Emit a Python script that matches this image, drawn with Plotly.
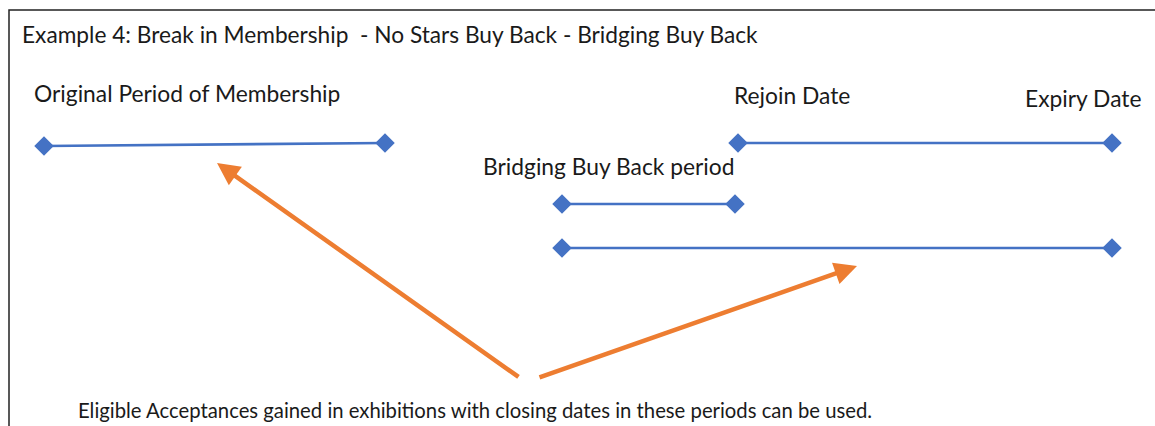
import plotly.graph_objects as go

# Timeline segments (pixel-like diagram coordinates)
seg_names = ["Original Period of Membership", "Rejoined period", "Bridging Buy Back period", "Combined period"]
seg_x_start = [44, 738, 562, 562]
seg_x_end = [385, 1112, 735, 1112]
seg_y_start = [146, 143, 204, 248]
seg_y_end = [143, 143, 204, 248]

# Labels
label_text = ["Original Period of Membership", "Rejoin Date", "Expiry Date", "Bridging Buy Back period"]
label_x = [32, 732, 1023, 481]
label_y = [93, 95, 98, 166]

title_text = "Example 4: Break in Membership  - No Stars Buy Back - Bridging Buy Back"
footer_text = "Eligible Acceptances gained in exhibitions with closing dates in these periods can be used."

# Arrows: tail -> head
arrow_tail_x = [520, 538]
arrow_tail_y = [378, 378]
arrow_head_x = [217, 857]
arrow_head_y = [163, 266]

BLUE = "#4472C4"
ORANGE = "#ED7D31"
FONT = "Lato"
TXT = "#1a1a1a"

fig = go.Figure()
for i in range(len(seg_x_start)):
    fig.add_trace(go.Scatter(
        x=[seg_x_start[i], seg_x_end[i]], y=[seg_y_start[i], seg_y_end[i]],
        mode="lines+markers", name=seg_names[i],
        line=dict(color=BLUE, width=2.7),
        marker=dict(symbol="diamond", size=15, color=BLUE),
        showlegend=False, hoverinfo="skip"))

annotations = []
annotations.append(dict(x=20, y=34, text=title_text.replace("  ", "&nbsp; "), showarrow=False,
                        xanchor="left", yanchor="middle", xref="x", yref="y",
                        font=dict(family=FONT, size=22.7, color=TXT)))
for t, x, y in zip(label_text, label_x, label_y):
    annotations.append(dict(x=x, y=y, text=t, showarrow=False, xanchor="left", yanchor="middle",
                            xref="x", yref="y", font=dict(family=FONT, size=22.8, color=TXT)))
annotations.append(dict(x=76, y=410, text=footer_text, showarrow=False, xanchor="left", yanchor="middle",
                        xref="x", yref="y", font=dict(family=FONT, size=20.3, color=TXT)))
for tx, ty, hx, hy in zip(arrow_tail_x, arrow_tail_y, arrow_head_x, arrow_head_y):
    annotations.append(dict(x=hx, y=hy, ax=tx, ay=ty, xref="x", yref="y", axref="x", ayref="y",
                            text="", showarrow=True, arrowhead=2, arrowsize=1.0, arrowwidth=4.5,
                            arrowcolor=ORANGE, standoff=0, startstandoff=0))

fig.update_layout(
    width=1155, height=426,
    margin=dict(l=0, r=0, t=0, b=0),
    paper_bgcolor="white", plot_bgcolor="white",
    xaxis=dict(range=[0, 1155], visible=False, fixedrange=True),
    yaxis=dict(range=[426, 0], visible=False, fixedrange=True),
    annotations=annotations,
    shapes=[dict(type="rect", xref="x", yref="y", x0=9, y0=10, x1=1170, y1=440,
                 line=dict(color="#222222", width=1.5), fillcolor="rgba(0,0,0,0)", layer="below")],
)

fig.write_html("out.html", config={"displayModeBar": False},
               post_script="document.body.style.margin='0';document.body.style.overflow='hidden';")
